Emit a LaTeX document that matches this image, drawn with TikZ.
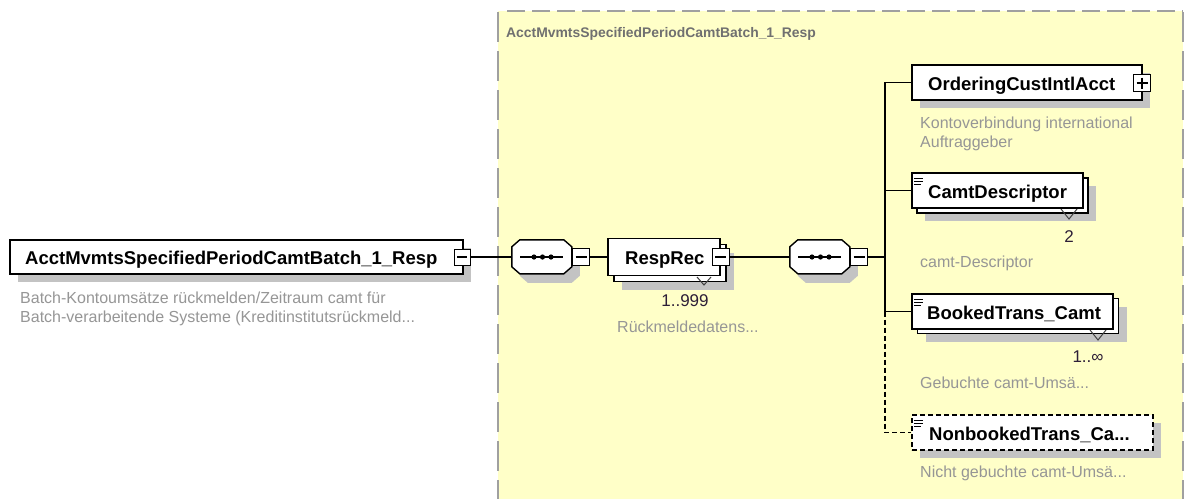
\documentclass[tikz,border=0pt]{standalone}
\usepackage{fontspec}
\setmainfont{Liberation Sans}
\usetikzlibrary{shadows,calc}
\definecolor{ybg}{RGB}{255,255,200}
\definecolor{ybd}{RGB}{160,160,160}
\definecolor{shd}{RGB}{195,195,195}
\definecolor{desc}{RGB}{150,150,150}
\definecolor{ttl}{RGB}{112,112,112}
\definecolor{occ}{RGB}{45,30,55}
\begin{document}
\begin{tikzpicture}[x=1pt,y=-1pt,
  shadowed/.style={general shadow={fill=shd, shadow xshift=8pt, shadow yshift=-8pt}},
  box/.style={draw=black, line width=1.4pt, fill=white, rectangle, inner sep=0pt, minimum height=35pt},
  octa/.style={draw=none, rectangle, minimum width=60pt, minimum height=34pt, inner sep=0pt},
  octline/.style={draw=black, line width=1.4pt, fill=white},
  btn/.style={draw=black, line width=1pt, fill=white, rectangle, minimum size=17pt, inner sep=0pt,
     path picture={\draw[line width=1.1pt] ([xshift=3pt]path picture bounding box.west) -- ([xshift=-3pt]path picture bounding box.east);}},
  btnplus/.style={draw=black, line width=1pt, fill=white, rectangle, minimum size=17pt, inner sep=0pt,
     path picture={\draw[line width=1.1pt] ([xshift=3pt]path picture bounding box.west) -- ([xshift=-3pt]path picture bounding box.east)
       ([yshift=-3pt]path picture bounding box.north) -- ([yshift=3pt]path picture bounding box.south);}},
  lbl/.style={font=\fontsize{18.5}{20}\selectfont\bfseries, anchor=base west, inner sep=0pt},
  dsc/.style={font=\fontsize{16}{19}\selectfont, text=desc, anchor=base west, inner sep=0pt},
  occl/.style={font=\fontsize{17}{18}\selectfont, text=occ, anchor=base, inner sep=0pt},
  conn/.style={line width=1.2pt, draw=black},
  tick/.style={line width=1pt, draw=black!75},
  icon/.style={line width=0.9pt, draw=black}
]
\useasboundingbox (0,0) rectangle (1188,499);
\fill[white] (0,0) rectangle (1188,499);
% group box
\fill[ybg] (498,11) rectangle (1183,499);
\draw[ybd, line width=1.5pt, dash pattern=on 18pt off 7pt] (507,11) -- (1183,11);
\draw[ybd, line width=1.5pt, dash pattern=on 30pt off 9pt] (498,12) -- (498,499);
\draw[ybd, line width=1.5pt, dash pattern=on 30pt off 9pt] (1183,12) -- (1183,499);
\node[font=\fontsize{13.9}{16}\selectfont\bfseries, text=ttl, anchor=base west, inner sep=0pt] (title) at (506,37) {AcctMvmtsSpecifiedPeriodCamtBatch\_1\_Resp};

% root element
\node[box, shadowed, minimum width=453pt, minimum height=34pt] (root) at (236.5,257) {};
\node[lbl] (rootl) at (25,264) {AcctMvmtsSpecifiedPeriodCamtBatch\_1\_Resp};
\node[btn, minimum size=16pt] (rootb) at (462,257) {};
\node[dsc] (rootd1) at (20,303) {Batch-Kontoumsätze rückmelden/Zeitraum camt für};
\node[dsc] (rootd2) at (20,322) {Batch-verarbeitende Systeme (Kreditinstitutsrückmeld...};

% sequences (octagons)
\node[octa] (s1) at (542,257) {};
\node[octa] (s2) at (820,257) {};
\foreach \n in {s1,s2} {
  \fill[shd] ($(\n.north west)+(16,9)$) -- ++(44,0) -- ++(8,7) -- ++(0,20) -- ++(-8,7) -- ++(-44,0) -- ++(-8,-7) -- ++(0,-20) -- cycle;
  \draw[octline] ($(\n.north west)+(8,0)$) -- ++(44,0) -- ++(8,7) -- ++(0,20) -- ++(-8,7) -- ++(-44,0) -- ++(-8,-7) -- ++(0,-20) -- cycle;
  \draw[line width=1.2pt] ($(\n.center)+(-22,0)$) -- ($(\n.center)+(21,0)$);
  \foreach \dx in {-8,0.5,9} \fill ($(\n.center)+(\dx,0)$) circle (2.6);
}
\node[btn] (s1b) at (581,257) {};
\node[btn] (s2b) at (859,257) {};
\coordinate (bus) at (885,257);

% RespRec
\node[box, shadowed, minimum width=112pt, minimum height=37pt] (respback) at (670,263) {};
\draw[tick] (697,277) -- (704,285) -- (711,277);
\node[box, minimum width=112pt, minimum height=37pt] (resp) at (664,257) {};
\node[lbl] (respl) at (625,264) {RespRec};
\node[btn] (respb) at (720.5,257) {};
\node[occl] (respo) at (685,306) {1..999};
\node[dsc] (respd) at (617,332) {Rückmeldedatens...};

% OrderingCustIntlAcct
\node[box, shadowed, minimum width=230pt] (ord) at (1027,82.5) {};
\node[lbl] (ordl) at (928,90) {OrderingCustIntlAcct};
\node[btnplus] (ordb) at (1142,83) {};
\node[dsc] (ordd1) at (920,128) {Kontoverbindung international};
\node[dsc] (ordd2) at (920,147) {Auftraggeber};

% CamtDescriptor
\node[box, shadowed, minimum width=171pt] (camtback) at (1002.5,195.5) {};
\draw[tick] (1061,209) -- (1069,219) -- (1077,209);
\node[box, minimum width=171pt] (camt) at (997.5,190.5) {};
\draw[icon] (914,178) -- (923,178) (914,181) -- (923,181) (914,184) -- (921,184);
\node[lbl] (camtl) at (928,198) {CamtDescriptor};
\node[occl] (camto) at (1069,242) {2};
\node[dsc] (camtd) at (920,267) {camt-Descriptor};

% BookedTrans_Camt
\node[box, shadowed, minimum width=201pt] (bookback) at (1018,316) {};
\draw[tick] (1090,330) -- (1098,340) -- (1106,330);
\node[box, minimum width=201pt] (book) at (1012.5,311.5) {};
\draw[icon] (914,299) -- (923,299) (914,302) -- (923,302) (914,305) -- (921,305);
\node[lbl] (bookl) at (927,319) {BookedTrans\_Camt};
\node[occl] (booko) at (1088,362) {1..∞};
\node[dsc] (bookd) at (920,388) {Gebuchte camt-Umsä...};

% NonbookedTrans_Ca...
\node[box, shadowed, dash pattern=on 5pt off 3pt, minimum width=241pt] (nonb) at (1032.5,432.5) {};
\draw[icon] (914,420) -- (923,420) (914,423) -- (923,423) (914,426) -- (921,426);
\node[lbl] (nonbl) at (929,440) {NonbookedTrans\_Ca...};
\node[dsc] (nonbd) at (920,477) {Nicht gebuchte camt-Umsä...};

% connectors
\draw[conn] (rootb.east) -- (s1.west);
\draw[conn] (s1b.east) -- (resp.west);
\draw[conn] (respb.east) -- (s2.west);
\draw[conn] (s2b.east) -- (bus);
\draw[conn] (ord.west) -- (ord.west -| bus) -- (book.west -| bus) -- (book.west);
\draw[conn] (camt.west -| bus) -- (camt.west);
\draw[conn, dash pattern=on 5pt off 3pt] (book.west -| bus) -- (nonb.west -| bus) -- (nonb.west);
\end{tikzpicture}
\end{document}
